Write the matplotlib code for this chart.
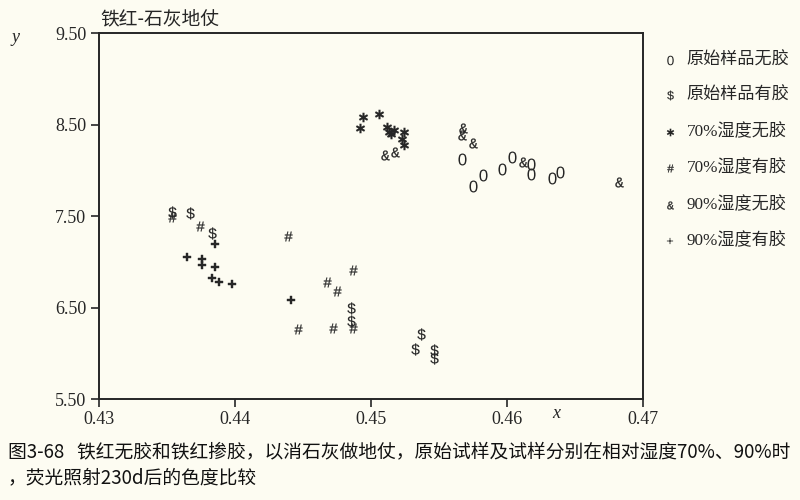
import matplotlib
matplotlib.use("Agg")
import numpy as np
import matplotlib.pyplot as plt
from matplotlib.textpath import TextPath
from matplotlib.font_manager import FontProperties
from matplotlib.path import Path

plt.rcParams['font.family'] = ['Liberation Serif', 'Noto Sans CJK SC', 'DejaVu Sans']

# Data
orig_nogel_x = [0.4567, 0.4575, 0.4582, 0.4596, 0.4604, 0.4618, 0.4618, 0.4633, 0.4639]
orig_nogel_y = [8.12, 7.83, 7.95, 8.01, 8.15, 8.07, 7.96, 7.92, 7.98]

orig_gel_x = [0.4354, 0.4367, 0.4383, 0.4485, 0.4485, 0.4537, 0.4532, 0.4546, 0.4546]
orig_gel_y = [7.54, 7.53, 7.31, 6.50, 6.35, 6.21, 6.05, 6.04, 5.95]

h70_nogel_x = [0.4494, 0.4506, 0.4492, 0.4512, 0.4513, 0.4517, 0.4524, 0.4523, 0.4524, 0.4515]
h70_nogel_y = [8.58, 8.62, 8.46, 8.47, 8.42, 8.44, 8.42, 8.34, 8.28, 8.40]

h70_gel_x = [0.4354, 0.4374, 0.4439, 0.4487, 0.4468, 0.4475, 0.4446, 0.4472, 0.4487]
h70_gel_y = [7.49, 7.39, 7.28, 6.91, 6.78, 6.68, 6.27, 6.28, 6.28]

h90_nogel_x = [0.4568, 0.4567, 0.4575, 0.4612, 0.4510, 0.4518, 0.4682]
h90_nogel_y = [8.46, 8.39, 8.30, 8.09, 8.17, 8.20, 7.87]

h90_gel_x = [0.4385, 0.4365, 0.4376, 0.4376, 0.4385, 0.4383, 0.4388, 0.4398, 0.4441]
h90_gel_y = [7.19, 7.05, 7.03, 6.96, 6.94, 6.82, 6.78, 6.76, 6.58]

labels = ['原始样品无胶', '原始样品有胶', '70%湿度无胶', '70%湿度有胶', '90%湿度无胶', '90%湿度有胶']
glyphs = ['0', '$', '✱', '#', '&', '+']
glyph_fonts = ['Liberation Sans', 'Liberation Mono', 'DejaVu Sans', 'Liberation Mono',
               'Liberation Mono', 'Liberation Mono']
glyph_scale = [1.1, 1.0, 0.85, 0.95, 0.95, 0.95]
glyph_lw = [0.0, 0.1, 0.0, 0.2, 0.2, 0.3]

xticks = [0.43, 0.44, 0.45, 0.46, 0.47]
yticks = [5.50, 6.50, 7.50, 8.50, 9.50]

R = 7.0  # common half-box so all glyphs keep their natural relative size


def glyph_marker(ch, family, scale):
    tp = TextPath((0, 0), ch, size=10 * scale, prop=FontProperties(family=family))
    ext = tp.get_extents()
    cx, cy = (ext.x0 + ext.x1) / 2, (ext.y0 + ext.y1) / 2
    verts = tp.vertices - np.array([cx, cy])
    codes = tp.codes
    pad = np.array([[-R, -R], [R, -R], [R, R], [-R, R]])
    verts = np.vstack([verts, pad])
    codes = np.concatenate([codes, [Path.MOVETO] * 4])
    return Path(verts, codes)


bg = '#fdfcf2'
ink = '#262626'

fig = plt.figure(figsize=(8, 5), dpi=100, facecolor=bg)
ax = fig.add_axes([0.12375, 0.202, 0.68, 0.732], facecolor=bg)

xs_all = [orig_nogel_x, orig_gel_x, h70_nogel_x, h70_gel_x, h90_nogel_x, h90_gel_x]
ys_all = [orig_nogel_y, orig_gel_y, h70_nogel_y, h70_gel_y, h90_nogel_y, h90_gel_y]

handles = []
for xs, ys, g, fam, sc, lw, lab in zip(xs_all, ys_all, glyphs, glyph_fonts, glyph_scale,
                                        glyph_lw, labels):
    h = ax.scatter(xs, ys, marker=glyph_marker(g, fam, sc), s=240, c=ink,
                   linewidths=lw, edgecolors=ink, label=lab)
    handles.append(h)

ax.set_xlim(0.43, 0.47)
ax.set_ylim(5.5, 9.5)
ax.set_xticks(xticks)
ax.set_xticklabels([f'{v:.2f}' for v in xticks])
ax.set_yticks(yticks)
ax.set_yticklabels([f'{v:.2f}' for v in yticks])
ax.tick_params(direction='out', length=6, width=1.2, colors=ink, labelsize=13, pad=3)
for sp in ax.spines.values():
    sp.set_linewidth(1.4)
    sp.set_color(ink)

fig.text(0.015, 0.926, 'y', fontsize=13, style='italic', color=ink, va='center')
fig.text(0.69, 0.172, 'x', fontsize=13, style='italic', color=ink, va='center')
fig.text(0.125, 0.963, '铁红-石灰地仗', fontsize=13.5, color=ink, va='center', ha='left',
         family=['Noto Sans CJK SC'])

leg = fig.legend(handles=handles, loc='upper left', bbox_to_anchor=(0.818, 0.91),
                 frameon=False, fontsize=12.3, labelspacing=1.15, handletextpad=0.5,
                 handlelength=1.0, markerscale=0.8, borderaxespad=0.0)
for t in leg.get_texts():
    t.set_color(ink)

fig.text(0.01, 0.096, '图3-68   铁红无胶和铁红掺胶，以消石灰做地仗，原始试样及试样分别在相对湿度70%、90%时',
         fontsize=13.5, color='#111111', va='center', ha='left', family=['Noto Sans CJK SC'])
fig.text(0.01, 0.044, '，荧光照射230d后的色度比较',
         fontsize=13.5, color='#111111', va='center', ha='left', family=['Noto Sans CJK SC'])

fig.savefig('out.png', dpi=100, facecolor=bg)
